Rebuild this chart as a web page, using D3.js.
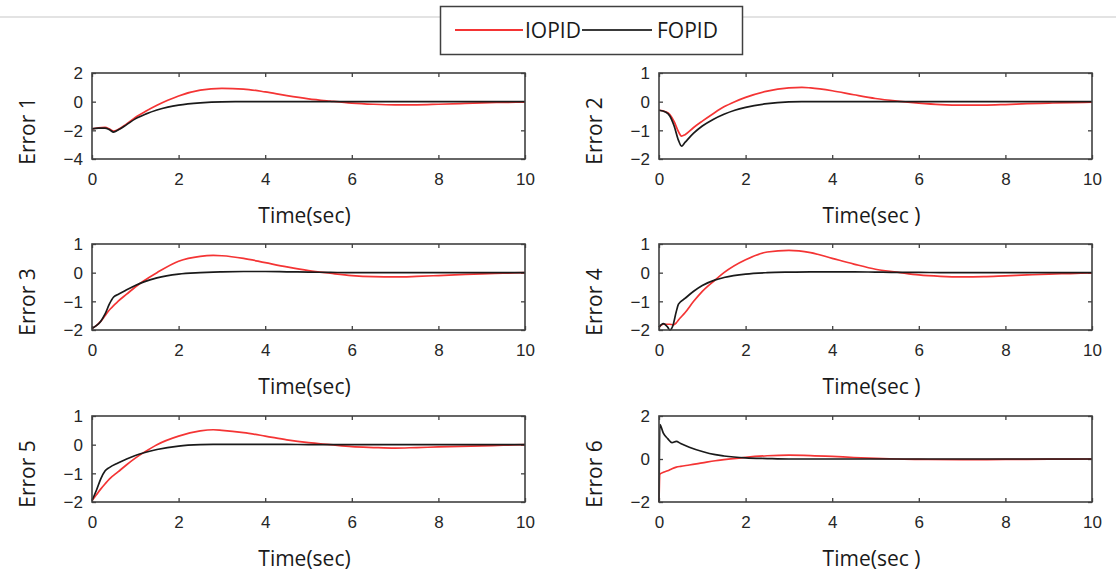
<!DOCTYPE html>
<html>
<head>
<meta charset="utf-8">
<script src="https://cdn.jsdelivr.net/npm/d3@7"></script>
<style>
  html, body { margin: 0; padding: 0; background: #fff; }
  svg { display: block; font-family: "Open Sans", sans-serif; }
  .tick text { fill: #262626; font-size: 17px; }
  .tick line { stroke: #404040; stroke-width: 1.3; }
  .domain { display: none; }
</style>
</head>
<body>
<svg id="chart" width="1116" height="573"></svg>
<script>
// Time grid (seconds) for each error response, and the two controller responses.
const xTicks = [0, 2, 4, 6, 8, 10];
const seriesNames = ["IOPID", "FOPID"];
const seriesColors = ["#f43434", "#1a1a1a"];

// Error 1
const e1Time  = [0, 0.15, 0.3, 0.4, 0.5, 0.6, 0.8, 1, 1.25, 1.5, 1.75, 2, 2.5, 3, 3.5, 4, 4.5, 5, 5.5, 6, 6.5, 7, 7.5, 8, 8.5, 9, 9.5, 10];
const e1IOPID = [-1.9, -1.82, -1.8, -1.9, -2.05, -1.95, -1.55, -1.1, -0.65, -0.25, 0.1, 0.4, 0.8, 0.93, 0.88, 0.68, 0.42, 0.2, 0.04, -0.1, -0.18, -0.22, -0.22, -0.18, -0.13, -0.08, -0.05, -0.03];
const e1FOPID = [-1.9, -1.85, -1.85, -1.95, -2.12, -1.98, -1.6, -1.2, -0.85, -0.58, -0.38, -0.24, -0.08, -0.01, 0, 0, 0, 0, 0, 0, 0, 0, 0, 0, 0, 0, 0, 0];

// Error 2
const e2Time  = [0, 0.15, 0.25, 0.35, 0.45, 0.52, 0.6, 0.8, 1, 1.25, 1.5, 1.75, 2, 2.5, 3, 3.3, 3.5, 4, 4.5, 5, 5.5, 6, 6.5, 7, 7.5, 8, 8.5, 9, 9.5, 10];
const e2IOPID = [-0.3, -0.35, -0.45, -0.7, -1.05, -1.2, -1.15, -0.9, -0.68, -0.42, -0.18, 0.0, 0.15, 0.37, 0.48, 0.5, 0.48, 0.38, 0.24, 0.11, 0.02, -0.05, -0.1, -0.12, -0.12, -0.1, -0.07, -0.05, -0.03, -0.02];
const e2FOPID = [-0.3, -0.36, -0.5, -0.85, -1.35, -1.55, -1.42, -1.1, -0.85, -0.62, -0.44, -0.3, -0.2, -0.07, -0.01, 0, 0, 0, 0, 0, 0, 0, 0, 0, 0, 0, 0, 0, 0, 0];

// Error 3
const e3Time  = [0, 0.1, 0.2, 0.3, 0.4, 0.5, 0.6, 0.8, 1, 1.2, 1.5, 2, 2.5, 2.8, 3, 3.5, 4, 4.5, 5, 5.5, 6, 6.5, 7, 7.5, 8, 8.5, 9, 9.5, 10];
const e3IOPID = [-1.95, -1.85, -1.7, -1.5, -1.3, -1.15, -1.0, -0.75, -0.5, -0.28, 0.0, 0.4, 0.57, 0.6, 0.59, 0.5, 0.35, 0.2, 0.07, -0.02, -0.1, -0.14, -0.15, -0.13, -0.1, -0.07, -0.04, -0.02, 0];
const e3FOPID = [-1.95, -1.85, -1.7, -1.45, -1.1, -0.85, -0.76, -0.6, -0.45, -0.32, -0.18, -0.05, 0, 0.02, 0.03, 0.04, 0.04, 0.03, 0.02, 0.01, 0, 0, 0, 0, 0, 0, 0, 0, 0];

// Error 4
const e4Time  = [0, 0.1, 0.2, 0.25, 0.32, 0.4, 0.45, 0.6, 0.8, 1, 1.3, 1.5, 2, 2.5, 3, 3.5, 4, 4.5, 5, 5.5, 6, 6.5, 7, 7.5, 8, 8.5, 9, 9.5, 10];
const e4IOPID = [-1.9, -1.8, -1.8, -1.8, -1.82, -1.75, -1.65, -1.4, -1.0, -0.65, -0.25, 0.0, 0.45, 0.72, 0.78, 0.7, 0.5, 0.3, 0.12, 0.02, -0.08, -0.13, -0.15, -0.14, -0.11, -0.08, -0.05, -0.03, -0.01];
const e4FOPID = [-1.9, -1.78, -1.9, -2.0, -1.85, -1.35, -1.1, -0.9, -0.65, -0.45, -0.25, -0.17, -0.05, 0, 0.02, 0.03, 0.03, 0.03, 0.02, 0.01, 0.01, 0, 0, 0, 0, 0, 0, 0, 0];

// Error 5
const e5Time  = [0, 0.1, 0.2, 0.3, 0.4, 0.6, 0.8, 1, 1.2, 1.5, 2, 2.5, 2.8, 3, 3.5, 4, 4.5, 5, 5.5, 6, 6.5, 7, 7.5, 8, 8.5, 9, 9.5, 10];
const e5IOPID = [-1.95, -1.75, -1.55, -1.37, -1.2, -0.95, -0.7, -0.47, -0.27, 0.0, 0.3, 0.48, 0.52, 0.5, 0.42, 0.3, 0.17, 0.07, 0.0, -0.07, -0.1, -0.12, -0.1, -0.08, -0.06, -0.04, -0.02, 0];
const e5FOPID = [-1.95, -1.6, -1.2, -0.92, -0.8, -0.64, -0.5, -0.38, -0.28, -0.17, -0.05, 0, 0.01, 0.01, 0.01, 0.01, 0.01, 0, 0, 0, 0, 0, 0, 0, 0, 0, 0, 0];

// Error 6
const e6Time  = [0, 0.02, 0.1, 0.2, 0.3, 0.4, 0.5, 0.7, 1, 1.3, 1.5, 2, 2.5, 3, 3.5, 4, 4.5, 5, 5.5, 6, 7, 8, 9, 10];
const e6IOPID = [-2.0, -0.7, -0.62, -0.55, -0.45, -0.38, -0.34, -0.28, -0.18, -0.08, -0.03, 0.08, 0.15, 0.18, 0.16, 0.12, 0.07, 0.03, 0, -0.02, -0.03, -0.02, -0.01, 0];
const e6FOPID = [-2.0, 1.6, 1.2, 0.95, 0.76, 0.82, 0.72, 0.55, 0.35, 0.2, 0.14, 0.05, 0.02, 0, 0, 0, 0, 0, 0, 0, 0, 0, 0, 0];

const panelLabels = ["Error 1", "Error 2", "Error 3", "Error 4", "Error 5", "Error 6"];
const yDomains = [[-4, 2], [-2, 1], [-2, 1], [-2, 1], [-2, 1], [-2, 2]];
const yTickSets = [[-4, -2, 0, 2], [-2, -1, 0, 1], [-2, -1, 0, 1], [-2, -1, 0, 1], [-2, -1, 0, 1], [-2, 0, 2]];
const xLabels = ["Time(sec)", "Time(sec )", "Time(sec)", "Time(sec )", "Time(sec)", "Time(sec )"];

const panels = [
  { t: e1Time, ys: [e1IOPID, e1FOPID] },
  { t: e2Time, ys: [e2IOPID, e2FOPID] },
  { t: e3Time, ys: [e3IOPID, e3FOPID] },
  { t: e4Time, ys: [e4IOPID, e4FOPID] },
  { t: e5Time, ys: [e5IOPID, e5FOPID] },
  { t: e6Time, ys: [e6IOPID, e6FOPID] }
];

const svg = d3.select("#chart");

// thin rule across the top, interrupted by the legend
svg.append("line").attr("x1", 0).attr("x2", 440).attr("y1", 17).attr("y2", 17)
  .attr("stroke", "#c8c8c8").attr("stroke-width", 1.2);
svg.append("line").attr("x1", 743).attr("x2", 1116).attr("y1", 17).attr("y2", 17)
  .attr("stroke", "#c8c8c8").attr("stroke-width", 1.2);

// legend
const legend = svg.append("g");
legend.append("rect").attr("x", 440.5).attr("y", 6.5).attr("width", 302).attr("height", 48)
  .attr("fill", "#fff").attr("stroke", "#404040").attr("stroke-width", 1.5);
const legendItems = [
  { name: seriesNames[0], color: seriesColors[0], x1: 455, x2: 523, tx: 525 },
  { name: seriesNames[1], color: "#3a3a3a", x1: 582, x2: 652, tx: 657 }
];
legendItems.forEach(d => {
  legend.append("line").attr("x1", d.x1).attr("x2", d.x2).attr("y1", 30).attr("y2", 30)
    .attr("stroke", d.color).attr("stroke-width", 2);
  legend.append("text").attr("x", d.tx).attr("y", 38).attr("fill", "#1a1a1a")
    .attr("font-size", 21).text(d.name);
});

const colX = [92, 659];
const rowY = [73, 244, 416];
const W = 433, H = 86;

panels.forEach((p, i) => {
  const col = i % 2, row = Math.floor(i / 2);
  const g = svg.append("g").attr("transform", `translate(${colX[col]},${rowY[row]})`);
  const x = d3.scaleLinear().domain([0, 10]).range([0, W]);
  const y = d3.scaleLinear().domain(yDomains[i]).range([H, 0]);

  // bottom axis with inward ticks
  const gx = g.append("g").attr("transform", `translate(0,${H})`)
    .call(d3.axisBottom(x).tickValues(xTicks).tickSize(-4).tickPadding(0).tickFormat(d3.format("d")));
  gx.selectAll("text").attr("y", 20).attr("dy", "0.35em");
  // top axis ticks
  g.append("g").call(d3.axisTop(x).tickValues(xTicks).tickSize(-4).tickFormat(""));
  // left axis
  const gy = g.append("g")
    .call(d3.axisLeft(y).tickValues(yTickSets[i]).tickSize(-4).tickPadding(9).tickFormat(d3.format("d")));
  gy.selectAll("text").attr("dy", "0.35em");
  // right axis ticks
  g.append("g").attr("transform", `translate(${W},0)`)
    .call(d3.axisRight(y).tickValues(yTickSets[i]).tickSize(-4).tickFormat(""));

  // series
  const clipId = "clip" + i;
  g.append("clipPath").attr("id", clipId).append("rect")
    .attr("x", -1).attr("y", -1).attr("width", W + 2).attr("height", H + 2);
  const line = d3.line().curve(d3.curveMonotoneX);
  p.ys.forEach((vals, k) => {
    g.append("path")
      .attr("clip-path", `url(#${clipId})`)
      .attr("d", line(p.t.map((t, j) => [x(t), y(vals[j])])))
      .attr("fill", "none")
      .attr("stroke", seriesColors[k])
      .attr("stroke-width", 1.7)
      .attr("stroke-linejoin", "round");
  });

  // frame
  g.append("rect").attr("x", 0).attr("y", 0).attr("width", W).attr("height", H)
    .attr("fill", "none").attr("stroke", "#404040").attr("stroke-width", 1.6);

  // axis titles
  g.append("text").attr("x", W / 2 - 4).attr("y", H + 64).attr("text-anchor", "middle")
    .attr("fill", "#1a1a1a").attr("font-size", 21).text(xLabels[i]);
  g.append("text")
    .attr("transform", `translate(-57,${H / 2 + 15}) rotate(-90)`)
    .attr("text-anchor", "middle").attr("fill", "#1a1a1a").attr("font-size", 21)
    .text(panelLabels[i]);
});
</script>
</body>
</html>
